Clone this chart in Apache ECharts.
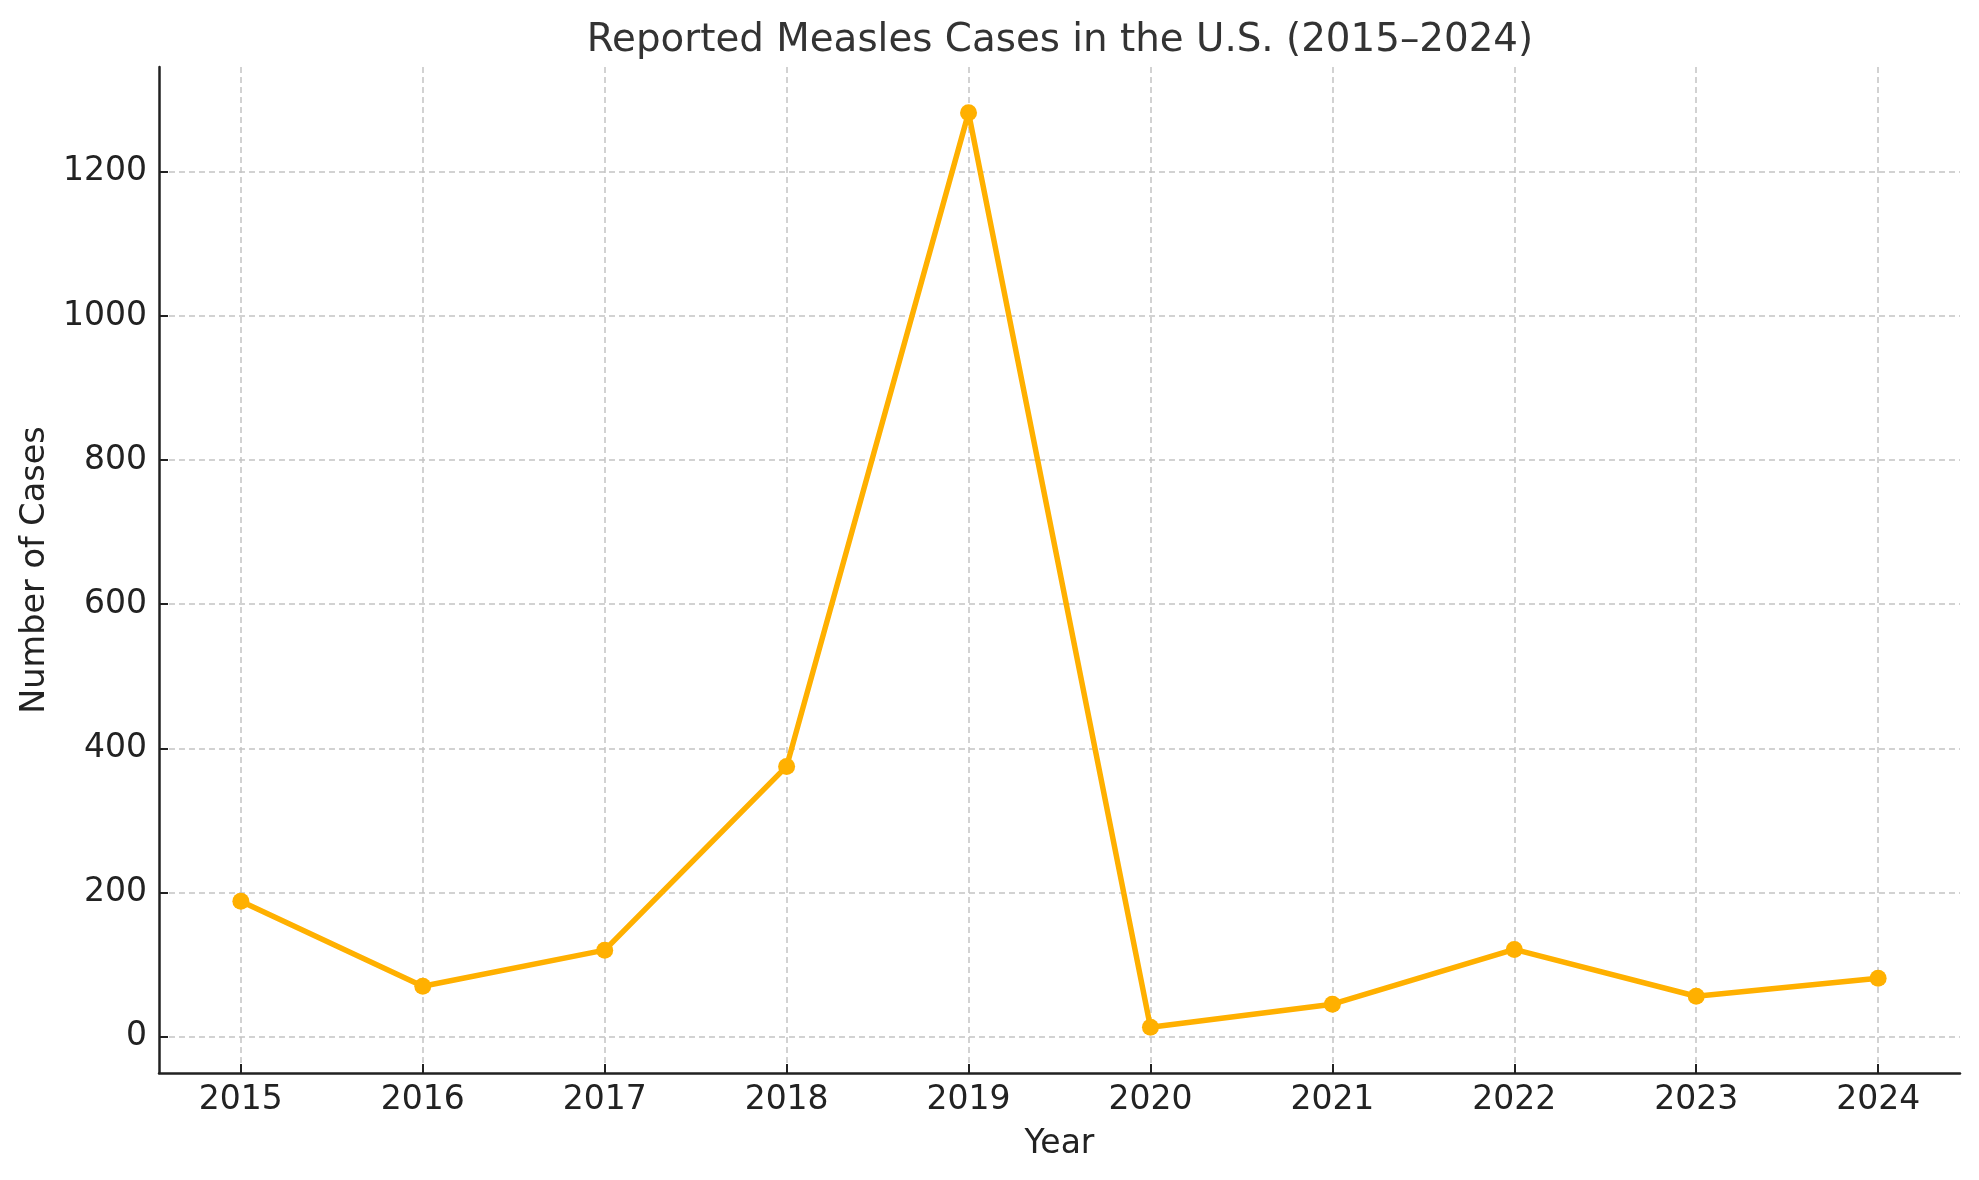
<!DOCTYPE html>
<html>
<head>
<meta charset="utf-8">
<script src="https://cdn.jsdelivr.net/npm/echarts@6/dist/echarts.min.js"></script>
<style>
  html, body { margin: 0; padding: 0; background: #fff; }
  #main { width: 1979px; height: 1180px; }
</style>
</head>
<body>
<div id="main"></div>
<script>
var years = [2015, 2016, 2017, 2018, 2019, 2020, 2021, 2022, 2023, 2024];
var cases = [188, 70, 120, 375, 1282, 13, 45, 121, 56, 81];
var yTicks = [0, 200, 400, 600, 800, 1000, 1200];

var chart = echarts.init(document.getElementById('main'));

var points = years.map(function (y, i) { return [y, cases[i]]; });

// matplotlib style 5% margins round the data
var xPad = (years[years.length - 1] - years[0]) * 0.05;
var yMin = Math.min.apply(null, cases), yMax = Math.max.apply(null, cases);
var yPad = (yMax - yMin) * 0.05;

var font = 'DejaVu Sans';
var plain = function (v) { return String(v); };
var gridLine = { show: true, lineStyle: { color: '#c4c4c4', width: 1.5, type: [6, 4] } };
var axisLine = { show: true, onZero: false, lineStyle: { color: '#222', width: 2.5 } };

var option = {
  animation: false,
  backgroundColor: '#fff',
  title: {
    text: 'Reported Measles Cases in the U.S. (2015\u20132024)',
    left: 1055, top: 16, textAlign: 'center',
    textStyle: { fontFamily: font, fontSize: 38.8, fontWeight: 'normal', color: '#333' }
  },
  grid: { left: 159, right: 19, top: 67, bottom: 107 },
  xAxis: {
    type: 'value',
    min: years[0] - xPad,
    max: years[years.length - 1] + xPad,
    name: 'Year',
    nameLocation: 'middle',
    nameGap: 55,
    nameTextStyle: { fontFamily: font, fontSize: 33, color: '#222' },
    axisLine: axisLine,
    axisTick: { show: true, inside: true, length: 9, customValues: years, lineStyle: { color: '#222', width: 2 } },
    axisLabel: { customValues: years, formatter: plain, margin: 11, fontFamily: font, fontSize: 33, color: '#222' },
    splitLine: gridLine
  },
  yAxis: {
    type: 'value',
    min: yMin - yPad,
    max: yMax + yPad,
    name: 'Number of Cases',
    nameLocation: 'middle',
    nameGap: 106,
    nameTextStyle: { fontFamily: font, fontSize: 33.5, color: '#222' },
    axisLine: axisLine,
    axisTick: { show: true, inside: true, length: 9, customValues: yTicks, lineStyle: { color: '#222', width: 2 } },
    axisLabel: { customValues: yTicks, formatter: plain, margin: 12, fontFamily: font, fontSize: 33, color: '#222' },
    splitLine: gridLine
  },
  series: [{
    type: 'line',
    data: points,
    symbol: 'circle',
    symbolSize: 17,
    itemStyle: { color: '#ffb000' },
    lineStyle: { color: '#ffb000', width: 5.5 }
  }]
};

chart.setOption(option);
</script>
</body>
</html>
